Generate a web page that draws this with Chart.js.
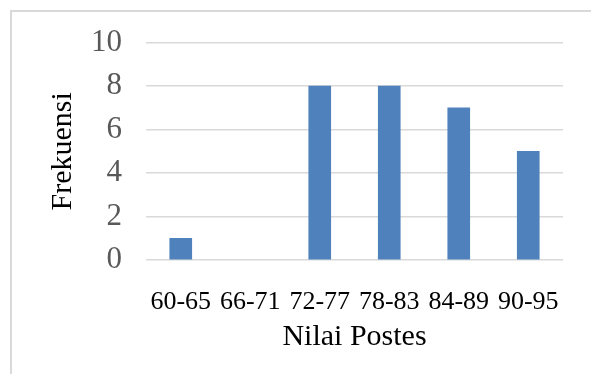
<!DOCTYPE html>
<html>
<head>
<meta charset="utf-8">
<script src="https://cdn.jsdelivr.net/npm/chart.js@4"></script>
<style>
  html, body { margin: 0; padding: 0; background: #fff; }
  #wrap { width: 591px; height: 374px; }
</style>
</head>
<body>
<div id="wrap"><canvas id="myChart" width="591" height="374"></canvas></div>
<script>
// values
var kelas = ['60-65', '66-71', '72-77', '78-83', '84-89', '90-95'];
var frekuensi = [1, 0, 8, 8, 7, 5];
var yTicks = [0, 2, 4, 6, 8, 10];

var serif = '"Liberation Serif", "Times New Roman", serif';

// light frame around the whole chart (cut off at right and bottom)
const frame = {
    id: 'frame',
    beforeDraw(chart) {
        const ctx = chart.ctx;
        ctx.save();
        ctx.fillStyle = '#ffffff';
        ctx.fillRect(0, 0, chart.width, chart.height);
        ctx.strokeStyle = '#d9d9d9';
        ctx.lineWidth = 2;
        ctx.strokeRect(11, 11, 700, 500);
        ctx.restore();
    }
};

const data = {
    labels: kelas,
    datasets: [{
        label: 'Frekuensi',
        // a zero bar should leave no sliver on the base line
        backgroundColor: function(c) {
            return c.raw === 0 ? 'rgba(0,0,0,0)' : '#4f81bd';
        },
        borderWidth: 0,
        data: frekuensi,
        barThickness: 22
    }]
};

const config = {
    type: 'bar',
    data: data,
    options: {
        responsive: false,
        animation: false,
        layout: { padding: { left: 0, top: 42, right: 28, bottom: 0 } },
        plugins: {
            legend: { display: false },
            tooltip: { enabled: false }
        },
        scales: {
            x: {
                grid: { display: false },
                border: { display: false },
                ticks: {
                    color: '#000000',
                    font: { family: serif, size: 26 },
                    padding: 19,
                    maxRotation: 0,
                    autoSkip: false
                },
                title: {
                    display: true,
                    text: 'Nilai Postes',
                    color: '#000000',
                    font: { family: serif, size: 30 },
                    padding: { top: 0, bottom: 19 }
                },
                afterFit: function(s) { s.height = 114; }
            },
            y: {
                min: 0,
                max: 10,
                afterBuildTicks: function(s) {
                    s.ticks = yTicks.map(function(v) { return { value: v }; });
                },
                grid: { color: '#d9d9d9', lineWidth: 1.5, drawTicks: false },
                border: { display: false },
                ticks: {
                    color: '#595959',
                    font: { family: serif, size: 31 },
                    padding: 24
                },
                title: {
                    display: true,
                    text: 'Frekuensi',
                    color: '#000000',
                    font: { family: serif, size: 30 },
                    padding: { top: 45, bottom: 0 }
                },
                afterFit: function(s) { s.width = 146; }
            }
        }
    },
    plugins: [frame]
};

const myChart = new Chart(document.getElementById('myChart').getContext('2d'), config);
</script>
</body>
</html>
